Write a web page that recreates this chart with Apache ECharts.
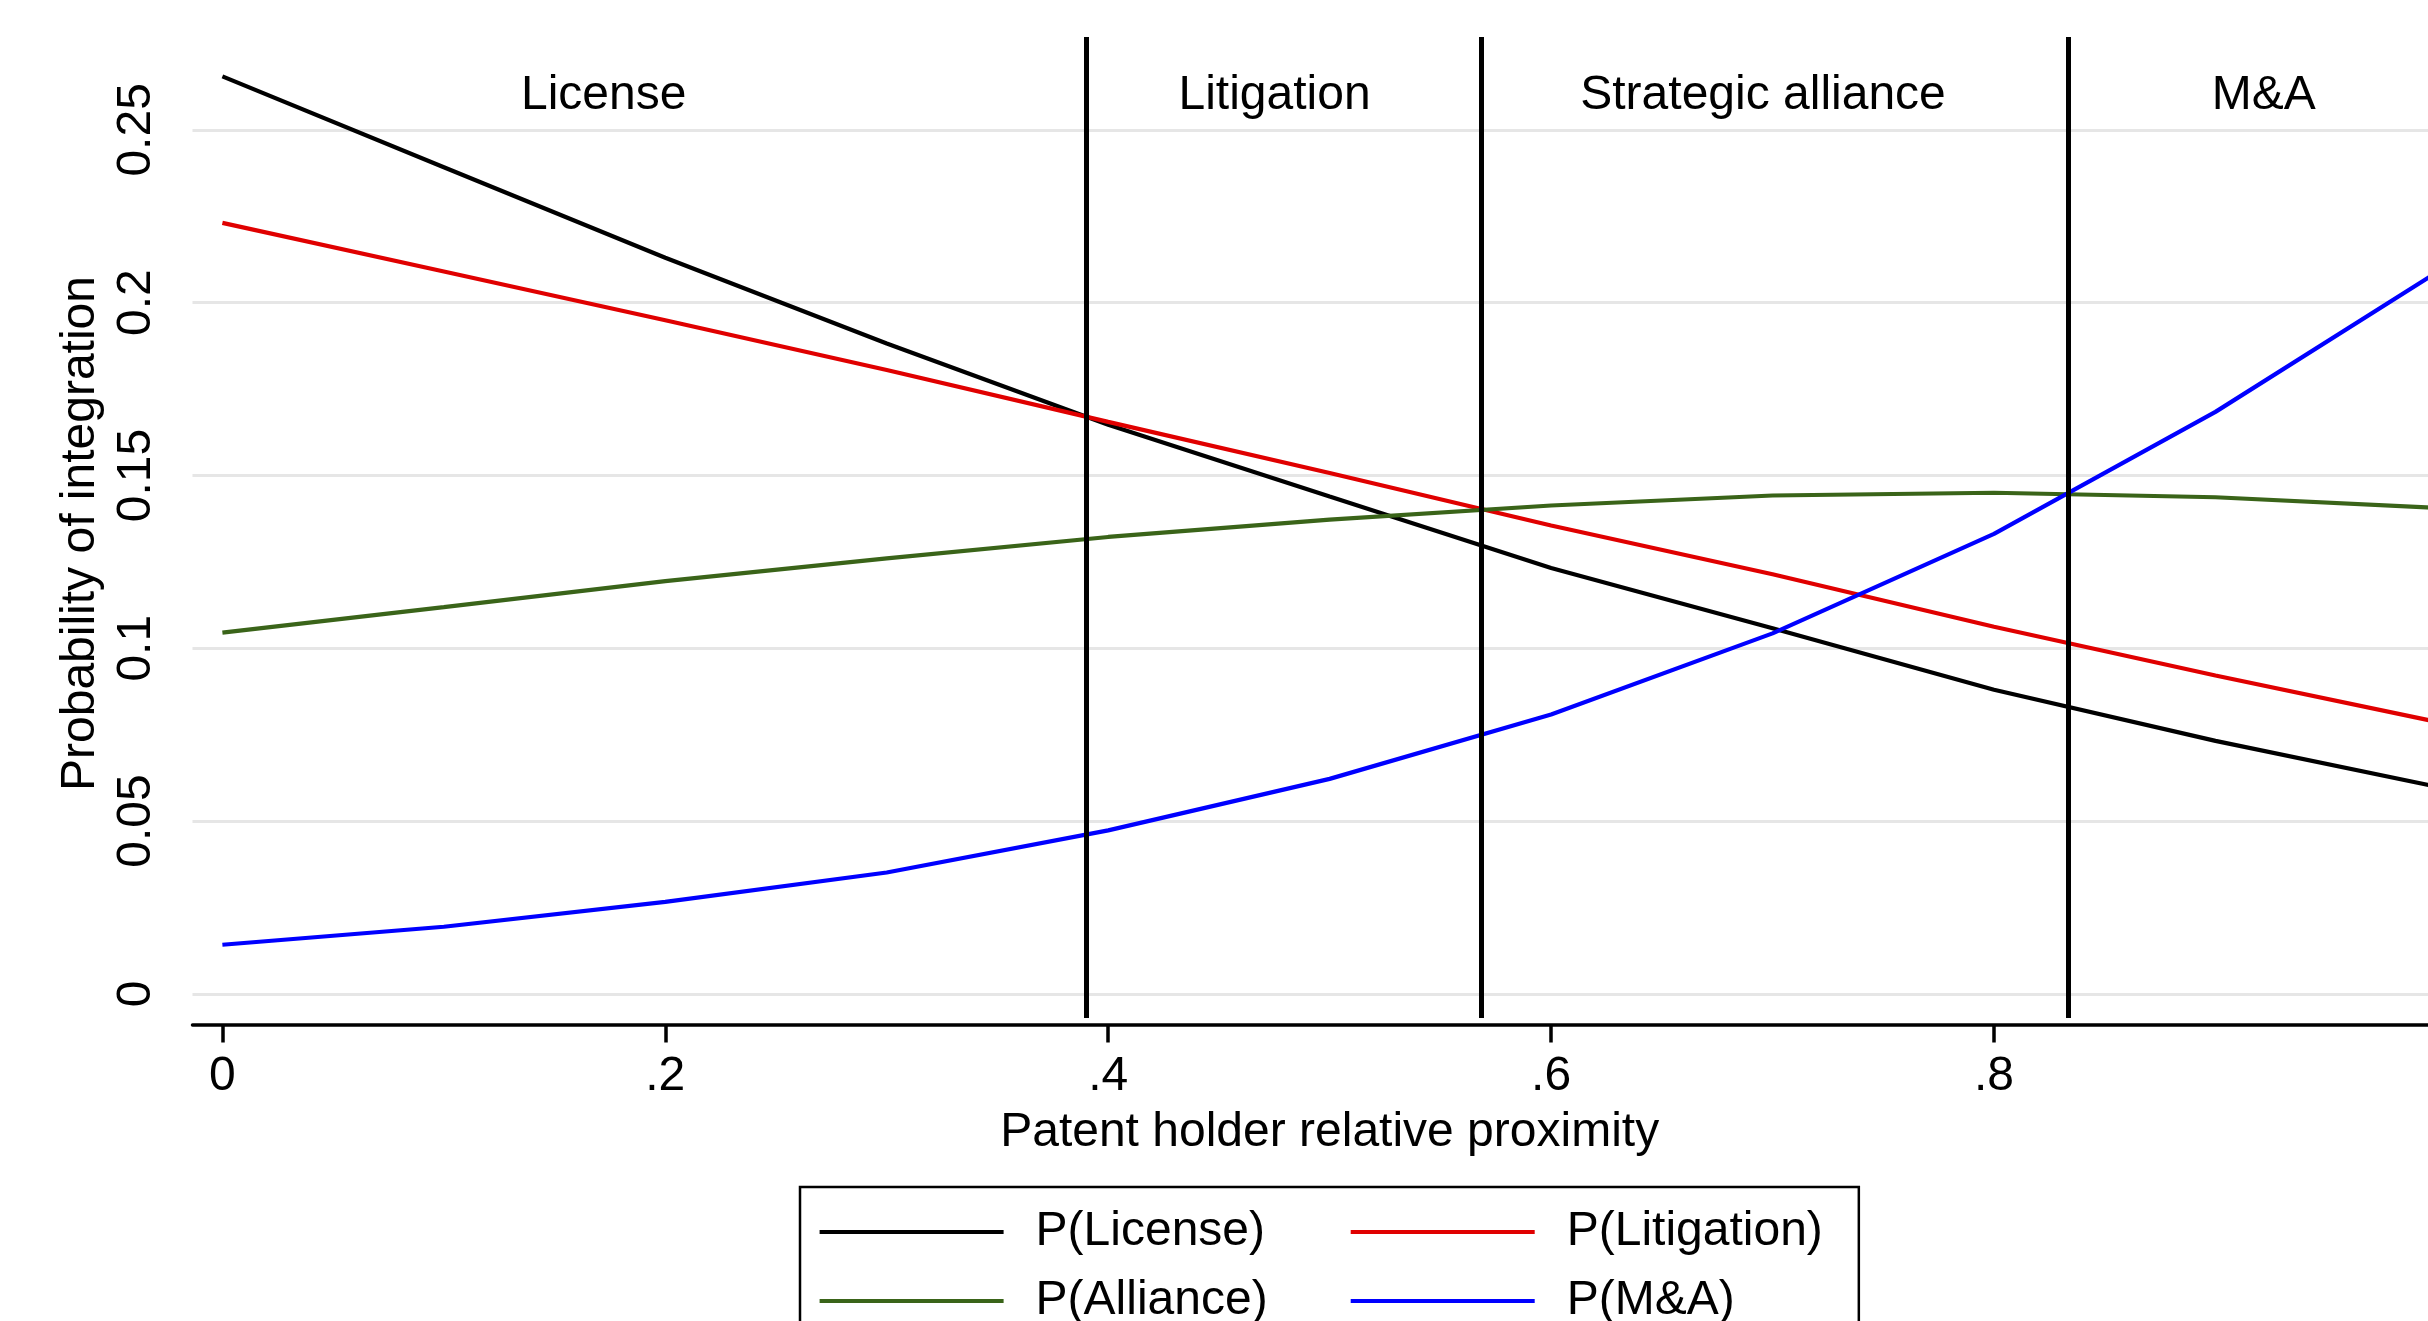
<!DOCTYPE html>
<html>
<head>
<meta charset="utf-8">
<script src="https://cdn.jsdelivr.net/npm/echarts@6/dist/echarts.min.js"></script>
<style>
html, body { margin: 0; padding: 0; background: #fff; overflow: hidden; }
#chart { width: 2500px; height: 1400px; }
</style>
</head>
<body>
<div id="chart"></div>
<script>
// ---- data ----
const xValues = [0, 0.1, 0.2, 0.3, 0.4, 0.5, 0.6, 0.7, 0.8, 0.9, 1.0];
const pLicense    = [0.2655, 0.2392, 0.2130, 0.1882, 0.1647, 0.1439, 0.1232, 0.1058, 0.0880, 0.0732, 0.0599];
const pLitigation = [0.2231, 0.2090, 0.1949, 0.1805, 0.1655, 0.1507, 0.1355, 0.1214, 0.1062, 0.0921, 0.0787];
const pAlliance   = [0.1045, 0.1119, 0.1194, 0.1260, 0.1322, 0.1372, 0.1413, 0.1442, 0.1450, 0.1437, 0.1406];
const pMA         = [0.0142, 0.0194, 0.0266, 0.0351, 0.0473, 0.0622, 0.0808, 0.1043, 0.1331, 0.1684, 0.2088];
const seriesNames = ['P(License)', 'P(Litigation)', 'P(Alliance)', 'P(M&A)'];
const cutoffs = [0.3901, 0.5684, 0.8334];
const regionNames = ['License', 'Litigation', 'Strategic alliance', 'M&A'];
const regionX = [0.1722, 0.4751, 0.6957, 0.9218];
const regionY = 0.2598;
const yTicks = [0, 0.05, 0.1, 0.15, 0.2, 0.25];
const xTicks = [0, 0.2, 0.4, 0.6, 0.8, 1];
const xTickLabels = [0, 0.2, 0.4, 0.6, 0.8];
const xTitle = 'Patent holder relative proximity';
const yTitle = 'Probability of integration';

const FONT = 'Liberation Sans, Arial, Helvetica, sans-serif';
const FS = 48;
const colors = ['#000000', '#e00000', '#3a6419', '#0000ff'];
const seriesValues = [pLicense, pLitigation, pAlliance, pMA];

function pairs(ys) { return xValues.map((x, i) => [x, ys[i]]); }

const chart = echarts.init(document.getElementById('chart'), null, { renderer: 'canvas' });

const lineSeries = seriesNames.map((name, i) => ({
  name: name,
  type: 'line',
  data: pairs(seriesValues[i]),
  symbol: 'none',
  showSymbol: false,
  smooth: false,
  lineStyle: { color: colors[i], width: 4.2 },
  itemStyle: { color: colors[i] },
  color: colors[i],
  animation: false,
  z: 3
}));

const labelSeries = {
  name: 'regions',
  type: 'scatter',
  data: regionNames.map((n, i) => [regionX[i], regionY, n]),
  symbolSize: 1,
  itemStyle: { color: 'rgba(0,0,0,0)' },
  silent: true,
  animation: false,
  label: {
    show: true,
    position: 'inside',
    formatter: p => p.value[2],
    color: '#000',
    opacity: 1,
    fontFamily: FONT,
    fontSize: FS,
    align: 'center',
    verticalAlign: 'middle'
  },
  emphasis: { disabled: true },
  markLine: {
    silent: true,
    animation: false,
    precision: 4,
    symbol: ['none', 'none'],
    label: { show: false },
    lineStyle: { color: '#000', width: 5, type: 'solid' },
    emphasis: { disabled: true },
    data: cutoffs.map(c => ({ xAxis: c }))
  },
  z: 4
};

const option = {
  backgroundColor: '#ffffff',
  animation: false,
  textStyle: { fontFamily: FONT },
  grid: { left: 192.5, top: 37, right: 33.2, bottom: 382, containLabel: false },
  xAxis: {
    type: 'value',
    min: -0.0135,
    max: 1.0135,
    offset: 6.5,
    name: xTitle,
    nameLocation: 'middle',
    nameGap: 84,
    nameTextStyle: { fontFamily: FONT, fontSize: FS, color: '#000', lineHeight: 48 },
    axisLine: { show: true, onZero: false, lineStyle: { color: '#000', width: 3.5 } },
    axisTick: { show: true, length: 18, lineStyle: { color: '#000', width: 3.5 }, customValues: xTicks },
    axisLabel: {
      show: true,
      customValues: xTickLabels,
      margin: 28.5,
      fontFamily: FONT, fontSize: FS, color: '#000', lineHeight: 48,
      formatter: v => (v === 0 ? '0' : String(+v.toFixed(2)).replace(/^0\./, '.'))
    },
    splitLine: { show: false }
  },
  yAxis: {
    type: 'value',
    min: -0.0070,
    max: 0.27688,
    name: yTitle,
    nameLocation: 'middle',
    nameGap: 86,
    nameRotate: 90,
    nameTextStyle: { fontFamily: FONT, fontSize: FS, color: '#000', lineHeight: 48, padding: [0, 12, 0, 0] },
    axisLine: { show: false },
    axisTick: { show: false, customValues: yTicks },
    axisLabel: {
      show: true,
      customValues: yTicks,
      rotate: 90,
      margin: 31.5,
      fontFamily: FONT, fontSize: FS, color: '#000', lineHeight: 48,
      formatter: v => String(+v.toFixed(2))
    },
    splitLine: { show: true, lineStyle: { color: '#e6e6e6', width: 3 } }
  },
  legend: {
    show: true,
    data: [
      { name: 'P(License)', textStyle: { width: 300 } },
      { name: 'P(Litigation)' },
      { name: 'P(Alliance)', textStyle: { width: 300 } },
      { name: 'P(M&A)' }
    ],
    orient: 'horizontal',
    left: 800,
    top: 1187,
    width: 1040,
    itemWidth: 184,
    itemHeight: 14,
    itemGap: 13,
    padding: [17, 36, 16, 17.5],
    borderColor: '#000',
    borderWidth: 2.5,
    backgroundColor: '#fff',
    selectedMode: false,
    itemStyle: { color: 'rgba(0,0,0,0)', borderColor: 'rgba(0,0,0,0)', borderWidth: 0 },
    lineStyle: { width: 4.2 },
    textStyle: { fontFamily: FONT, fontSize: FS, color: '#000', lineHeight: 56, padding: [0, 0, 0, 27] }
  },
  series: [...lineSeries, labelSeries]
};

chart.setOption(option);
</script>
</body>
</html>
